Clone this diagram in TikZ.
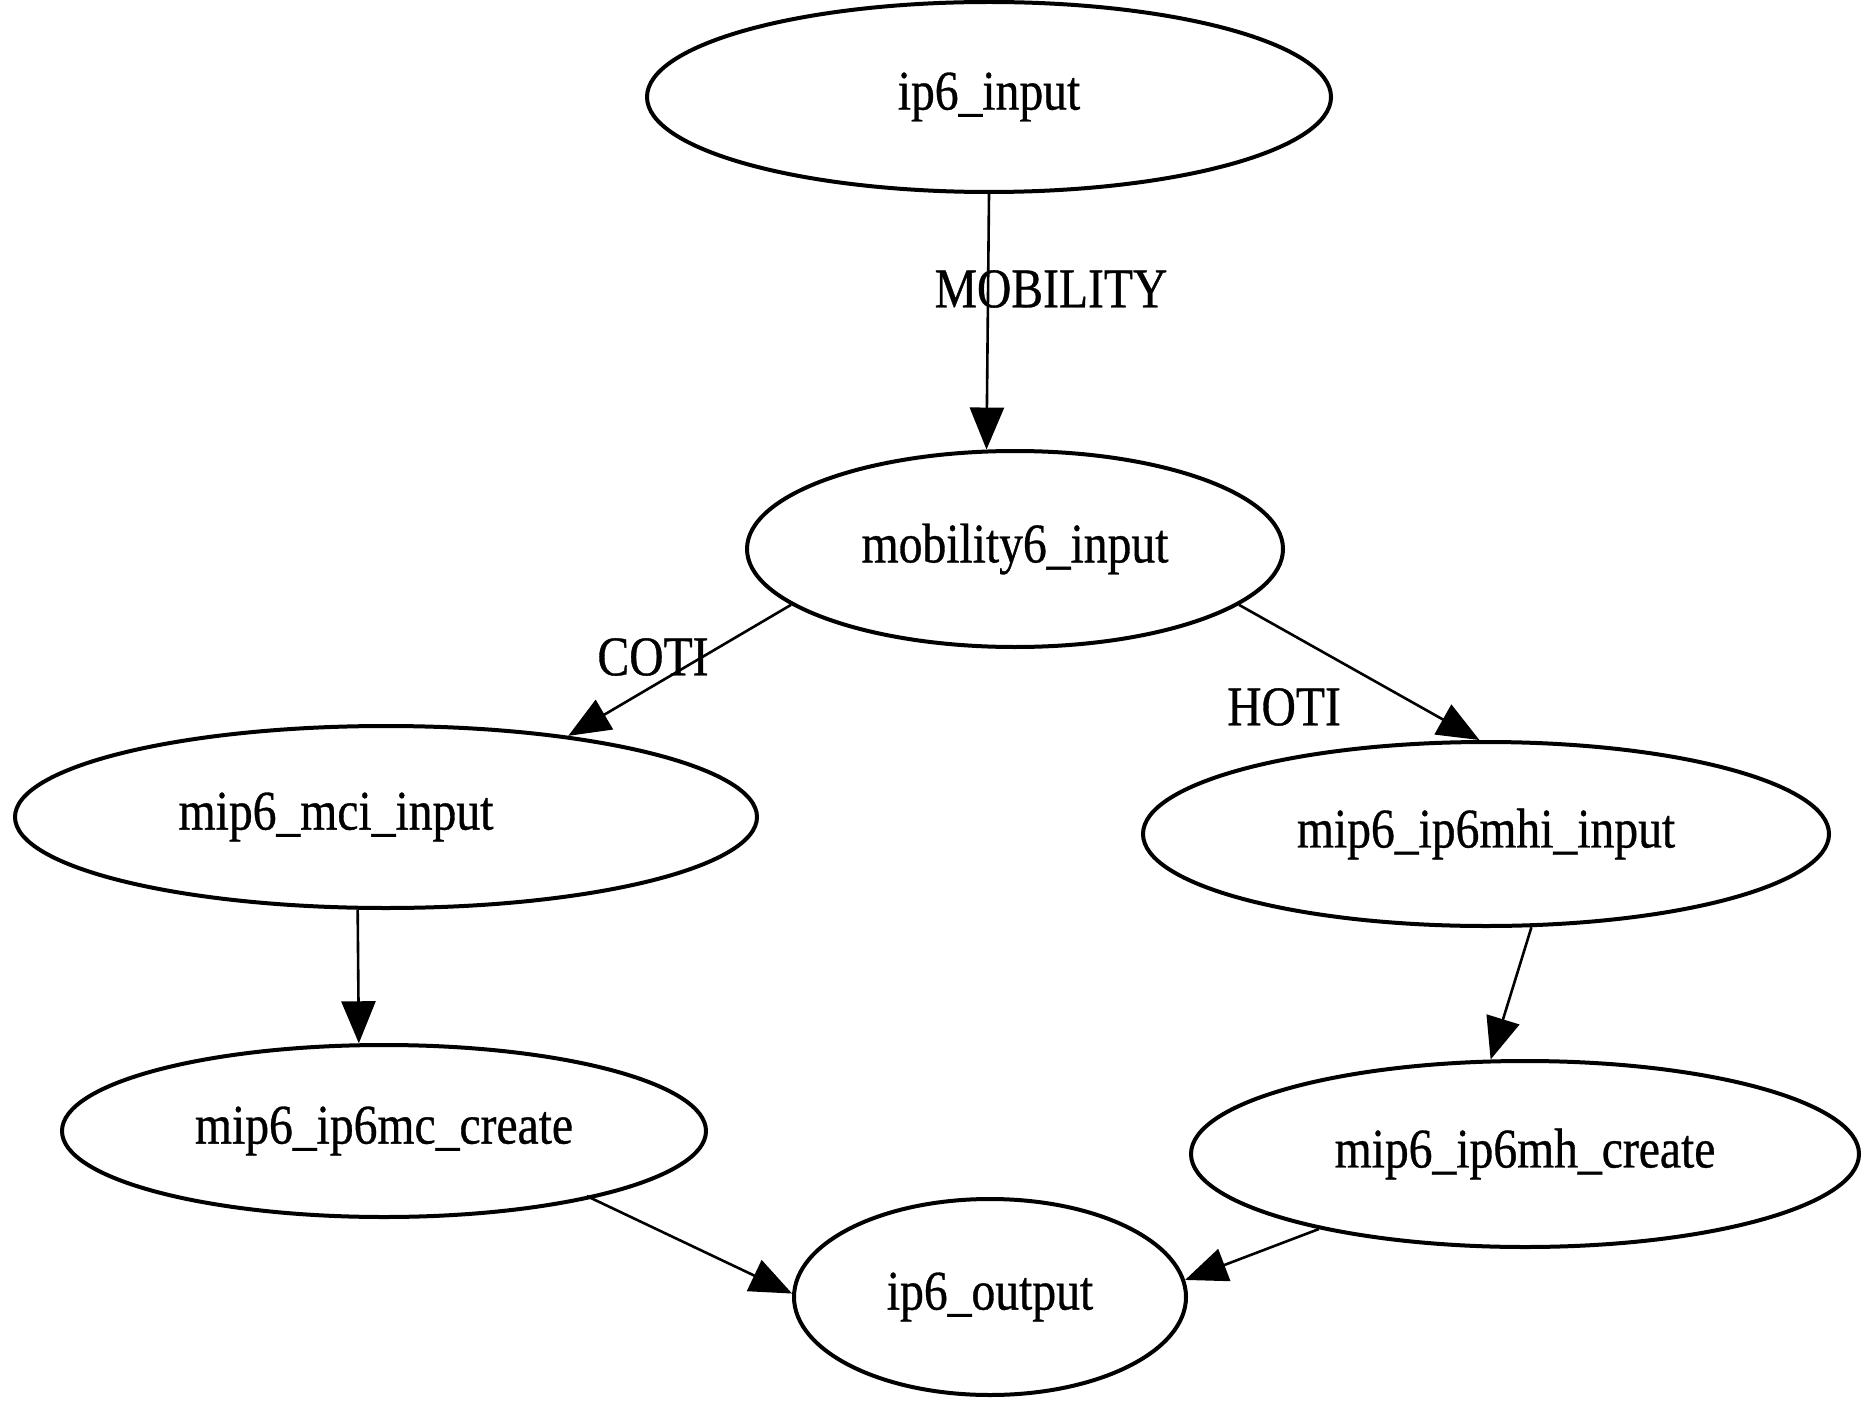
\documentclass[tikz,border=0pt]{standalone}
\usepackage{fontspec}
\setmainfont{Liberation Serif}[FakeStretch=0.85,FakeBold=0.6]
\usetikzlibrary{shapes.geometric,arrows.meta}
\begin{document}
\begin{tikzpicture}[x=1pt,y=-1pt,
  every node/.style={font=\fontsize{56}{60}\selectfont},
  proc/.style={draw,ellipse,line width=4pt,inner sep=0pt},
  link/.style={line width=2.6pt,-{Triangle[length=42pt,width=34pt]}},
  tag/.style={inner sep=0pt}]
\useasboundingbox (0,0) rectangle (1863,1404);

% call graph nodes
\node[proc,minimum width=684pt,minimum height=190pt] (in)  at (989,97)   {ip6\_input};
\node[proc,minimum width=536pt,minimum height=196pt] (mob) at (1015,549) {mobility6\_input};
\node[proc,minimum width=742pt,minimum height=182pt,
      label={[xshift=-50pt,inner sep=0pt]center:mip6\_mci\_input}] (mci) at (386,817) {};
\node[proc,minimum width=686pt,minimum height=184pt] (mhi) at (1486,834) {mip6\_ip6mhi\_input};
\node[proc,minimum width=644pt,minimum height=172pt] (mc)  at (384,1131) {mip6\_ip6mc\_create};
\node[proc,minimum width=668pt,minimum height=186pt] (mh)  at (1525,1154) {mip6\_ip6mh\_create};
\node[proc,minimum width=392pt,minimum height=196pt] (out) at (990,1297) {ip6\_output};

% calls
\draw[link] (in.south) -- (mob.106);
\draw[link] (mob.194) -- (mci.24);
\draw[link] (mob.346) -- (mhi.94);
\draw[link] (mci.253) -- (mc.106);
\draw[link] (mhi.296) -- (mh.110);
\draw[link] ([shift={(22pt,8pt)}]mc.338) -- (out.179);
\draw[link] (mh.200) -- (out.5);

% edge labels
\node[tag] (lmob) at (1051,289) {MOBILITY};
\node[tag] (lcot) at (653,657) {COTI};
\node[tag] (lhot) at (1284,707) {HOTI};
\end{tikzpicture}
\end{document}
